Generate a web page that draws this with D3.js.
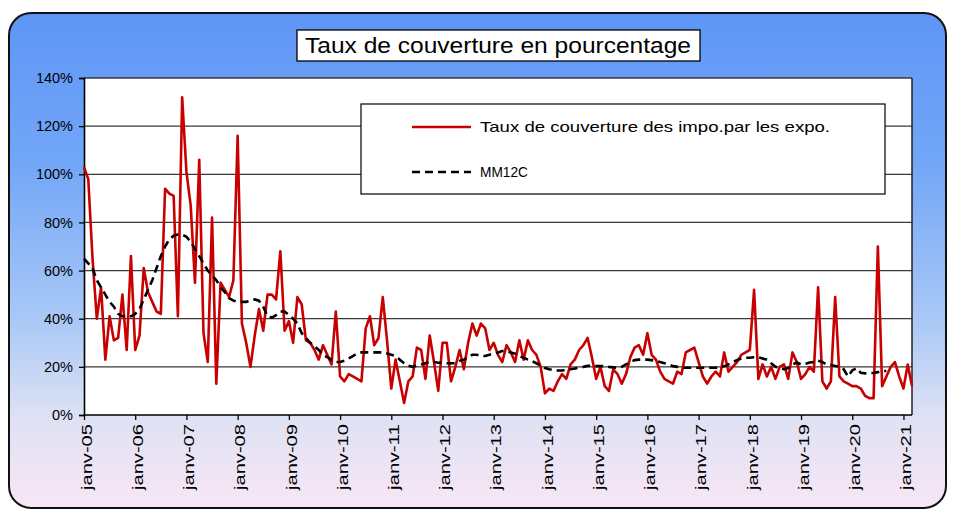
<!DOCTYPE html>
<html>
<head>
<meta charset="utf-8">
<script src="https://cdn.jsdelivr.net/npm/d3@7/dist/d3.min.js"></script>
<style>
  html, body { margin: 0; padding: 0; background: #ffffff; }
  svg { display: block; font-family: "Liberation Sans", Arial, sans-serif; }
</style>
</head>
<body>
<svg id="chart" width="954" height="512"></svg>
<script>
// Monthly coverage rate (exports / imports, %), janv-05 onwards
const startYear = 2005;
const tauxCouverture = [
  // 2005
  103, 98, 65, 40, 53, 23, 41, 31, 32, 50, 27, 66,
  // 2006
  27, 33, 61, 51, 47, 43, 42, 94, 92, 91, 41, 132,
  // 2007
  101, 87, 55, 106, 34, 22, 82, 13, 55, 52, 49, 56,
  // 2008
  116, 38, 30, 20, 33, 44, 35, 50, 50, 48, 68, 35,
  // 2009
  39, 30, 49, 46, 31, 30, 27, 23, 29, 25, 21, 43,
  // 2010
  16, 14, 17, 16, 15, 14, 36, 41, 29, 32, 49, 31,
  // 2011
  11, 23, 14, 5, 14, 16, 28, 27, 15, 33, 22, 10,
  // 2012
  30, 30, 14, 20, 27, 19, 30, 38, 33, 38, 36, 27,
  // 2013
  30, 25, 22, 29, 26, 22, 31, 23, 31, 27, 25, 20,
  // 2014
  9, 11, 10, 14, 17, 15, 21, 23, 27, 29, 32, 24,
  // 2015
  15, 20, 12, 10, 19, 17, 13, 17, 24, 28, 29, 25,
  // 2016
  34, 25, 23, 18, 15, 14, 13, 18, 17, 26, 27, 28,
  // 2017
  22, 16, 13, 16, 18, 16, 26, 18, 20, 22, 25, 26,
  // 2018
  27, 52, 15, 21, 16, 20, 15, 20, 21, 15, 26, 22,
  // 2019
  15, 17, 20, 18, 53, 14, 11, 14, 49, 16, 14, 13,
  // 2020
  12, 12, 11, 8, 7, 7, 70, 12, 16, 20, 22, 16,
  // 2021
  11, 21, 12
];

// Centred 12-month moving average (MM12C), same monthly index
const mm12c = [
  // 2005
  65, 63, 61, 56, 53, 50, 47, 45, 42, 41, 41, 41,
  // 2006
  42, 44, 48, 52, 56, 61, 66, 70, 73, 74.5, 75, 75,
  // 2007
  74, 72, 69, 66, 63, 60, 58, 56, 53, 51, 48.5, 47.5,
  // 2008
  47, 47, 47, 47.5, 48, 47.5, 45, 41, 40.5, 41.5, 43, 43,
  // 2009
  41.5, 40, 38, 34, 32, 30, 28.5, 27, 25, 24, 23, 22,
  // 2010
  22, 22.5, 23.5, 24.5, 25.5, 26, 26, 26, 26, 26, 26, 25.5,
  // 2011
  25, 24.5, 23, 21.5, 20.5, 20, 20.5, 21, 21.5, 22, 22, 21.7,
  // 2012
  21.7, 21.5, 21.5, 21.5, 22.5, 23, 24, 25, 25, 24.5, 24.5, 25,
  // 2013
  25.5, 26, 26.6, 26.5, 26, 25.5, 24.5, 23.8, 23, 22.4, 21.5, 20.5,
  // 2014
  19.5, 19, 18.7, 18.5, 18.5, 18.7, 19, 19.3, 19.7, 20, 20.4, 20.5,
  // 2015
  20.3, 20.3, 20.3, 20, 19.8, 19.6, 20, 21, 22, 22.8, 23, 23,
  // 2016
  23, 22.8, 22.4, 22, 21.5, 21, 20.3, 20, 19.7, 19.6, 19.6, 19.6,
  // 2017
  19.6, 19.6, 19.6, 19.6, 19.6, 19.8, 20.2, 21, 22, 22.8, 23.5, 23.8,
  // 2018
  23.8, 24, 24, 23.5, 23, 21.5, 20, 19.5, 19, 19.5, 21, 21.8,
  // 2019
  21, 21.2, 21.8, 22, 22.5, 22, 21, 20.8, 20.4, 20, 19, 16,
  // 2020
  18.5, 19.5, 17.5, 17.3, 17.4, 17.5, 17.8, 18.3, 18.3
];

const yTicks = [0, 20, 40, 60, 80, 100, 120, 140];
const xTickYears = d3.range(2005, 2022);            // janv-05 ... janv-21
const xTickLabels = xTickYears.map(y => "janv-" + String(y % 100).padStart(2, "0"));

const titleText = "Taux de couverture en pourcentage";
const legendLabels = ["Taux de couverture des impo.par les expo.", "MM12C"];

const svg = d3.select("#chart");

// Background panel gradient
const defs = svg.append("defs");
const grad = defs.append("linearGradient")
  .attr("id", "bg").attr("x1", 0).attr("y1", 0).attr("x2", 0).attr("y2", 1);
[[0, "#5e96f6"], [0.3, "#72a6f7"], [0.62, "#a9c8f6"], [0.82, "#dfe2f4"], [1, "#f8e6f5"]]
  .forEach(([o, c]) => grad.append("stop").attr("offset", o).attr("stop-color", c));

svg.append("rect")
  .attr("x", 9).attr("y", 13).attr("width", 937).attr("height", 495)
  .attr("rx", 22).attr("ry", 22)
  .attr("fill", "url(#bg)")
  .attr("stroke", "#111").attr("stroke-width", 2);

// Plot area
const plot = { left: 84, right: 912, top: 78, bottom: 415 };

const x = d3.scaleLinear()
  .domain([0, tauxCouverture.length - 1])
  .range([plot.left, plot.right]);
const y = d3.scaleLinear()
  .domain([0, 140])
  .range([plot.bottom, plot.top]);

svg.append("rect")
  .attr("x", plot.left).attr("y", plot.top)
  .attr("width", plot.right - plot.left).attr("height", plot.bottom - plot.top)
  .attr("fill", "#ffffff");

// Horizontal gridlines
svg.append("g")
  .selectAll("line")
  .data(yTicks.filter(d => d > 0))
  .join("line")
  .attr("x1", plot.left).attr("x2", plot.right)
  .attr("y1", d => y(d)).attr("y2", d => y(d))
  .attr("stroke", "#3a3a3a").attr("stroke-width", 1.3);

// Right border of plot area
svg.append("line")
  .attr("x1", plot.right).attr("x2", plot.right)
  .attr("y1", plot.top).attr("y2", plot.bottom)
  .attr("stroke", "#222").attr("stroke-width", 1.5);

// Y axis
const yAxis = d3.axisLeft(y)
  .tickValues(yTicks)
  .tickFormat(d => d + "%")
  .tickSize(5)
  .tickPadding(6);
const gy = svg.append("g")
  .attr("transform", `translate(${plot.left},0)`)
  .call(yAxis);
gy.select(".domain").attr("stroke", "#000").attr("stroke-width", 1.6);
gy.selectAll(".tick line").attr("stroke", "#000").attr("stroke-width", 1.3);
gy.selectAll(".tick text")
  .attr("font-family", "Liberation Sans, Arial, sans-serif")
  .attr("font-size", 14.5).attr("fill", "#000");

// X axis (one tick per January)
const xTickIdx = xTickYears.map(yr => (yr - startYear) * 12);
const xAxis = d3.axisBottom(x)
  .tickValues(xTickIdx)
  .tickFormat((d, i) => xTickLabels[i])
  .tickSize(5)
  .tickSizeOuter(0);
const gx = svg.append("g")
  .attr("transform", `translate(0,${plot.bottom})`)
  .call(xAxis);
gx.select(".domain").attr("stroke", "#000").attr("stroke-width", 1.6)
  .attr("d", `M${plot.left},0H${plot.right}`);
gx.selectAll(".tick line").attr("stroke", "#000").attr("stroke-width", 1.3);
gx.selectAll(".tick text")
  .attr("font-family", "Liberation Sans, Arial, sans-serif")
  .attr("font-size", 15).attr("fill", "#000")
  .attr("text-anchor", "end")
  .attr("dy", "0.35em")
  .attr("y", 0)
  .attr("x", 0)
  .attr("transform", "translate(2,9) rotate(-90)")
  .attr("textLength", 66)
  .attr("lengthAdjust", "spacingAndGlyphs");

// Series lines
const line = d3.line()
  .x((d, i) => x(i))
  .y(d => y(d));

svg.append("path")
  .datum(tauxCouverture)
  .attr("d", line)
  .attr("fill", "none")
  .attr("stroke", "#c80000")
  .attr("stroke-width", 2.6)
  .attr("stroke-linejoin", "round");

svg.append("path")
  .datum(mm12c)
  .attr("d", line)
  .attr("fill", "none")
  .attr("stroke", "#000")
  .attr("stroke-width", 2.6)
  .attr("stroke-dasharray", "8,5");

// Title box
const titleG = svg.append("g");
titleG.append("rect")
  .attr("x", 297).attr("y", 30).attr("width", 403).attr("height", 31)
  .attr("fill", "#fff").attr("stroke", "#000").attr("stroke-width", 1.3);
titleG.append("text")
  .attr("x", 305).attr("y", 53)
  .attr("font-size", 22)
  .attr("textLength", 386)
  .attr("lengthAdjust", "spacingAndGlyphs")
  .attr("fill", "#000")
  .text(titleText);

// Legend
const legend = svg.append("g");
legend.append("rect")
  .attr("x", 361).attr("y", 104).attr("width", 524).attr("height", 90)
  .attr("fill", "#fff").attr("stroke", "#000").attr("stroke-width", 1.2);
legend.append("line")
  .attr("x1", 412).attr("x2", 471).attr("y1", 127).attr("y2", 127)
  .attr("stroke", "#c80000").attr("stroke-width", 2.6);
legend.append("line")
  .attr("x1", 412).attr("x2", 471).attr("y1", 172).attr("y2", 172)
  .attr("stroke", "#000").attr("stroke-width", 2.6)
  .attr("stroke-dasharray", "8,5");
legend.append("text")
  .attr("x", 480).attr("y", 132)
  .attr("font-size", 15)
  .attr("textLength", 350)
  .attr("lengthAdjust", "spacingAndGlyphs")
  .text(legendLabels[0]);
legend.append("text")
  .attr("x", 480).attr("y", 177)
  .attr("font-size", 15)
  .attr("textLength", 48)
  .attr("lengthAdjust", "spacingAndGlyphs")
  .text(legendLabels[1]);
</script>
</body>
</html>
